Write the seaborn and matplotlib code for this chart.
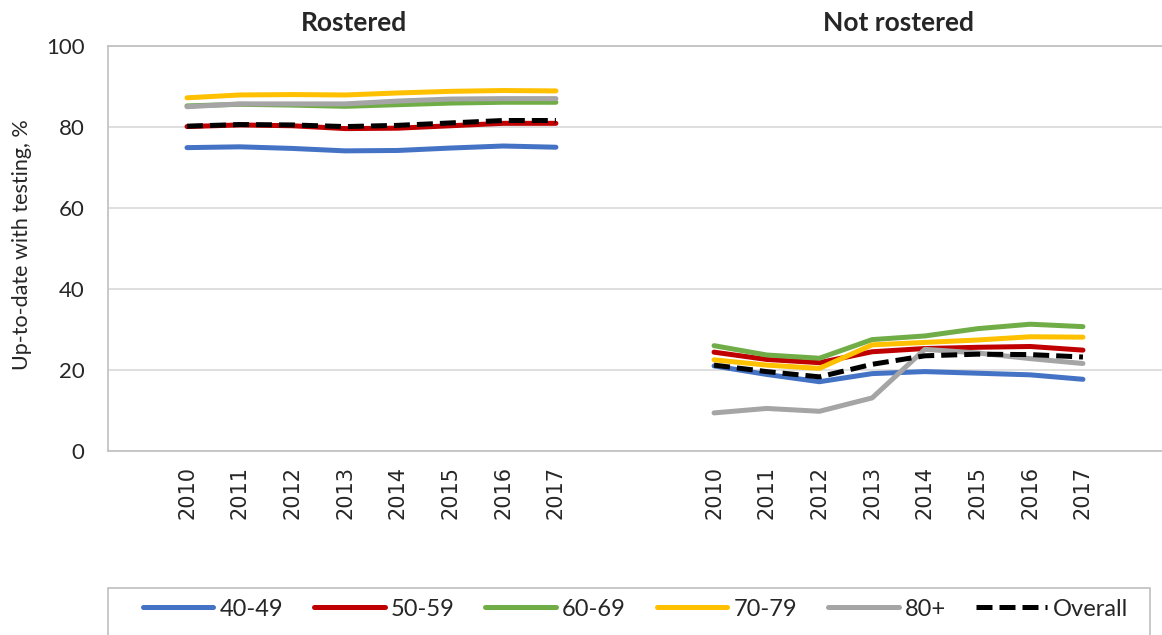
import numpy as np
import pandas as pd
import matplotlib
matplotlib.use("Agg")
import matplotlib.pyplot as plt
from matplotlib.patches import Rectangle
import seaborn as sns

# -------------------
# Data
years = ["2010", "2011", "2012", "2013", "2014", "2015", "2016", "2017"]
panels = ["Rostered", "Not rostered"]
groups = ["40-49", "50-59", "60-69", "70-79", "80+", "Overall"]

rostered = {
    "40-49":   [74.9, 75.1, 74.7, 74.1, 74.2, 74.8, 75.3, 75.0],
    "50-59":   [80.1, 80.5, 80.3, 79.6, 79.7, 80.3, 80.9, 80.9],
    "60-69":   [85.2, 85.6, 85.4, 85.1, 85.5, 85.9, 86.1, 86.1],
    "70-79":   [87.2, 87.9, 88.0, 87.9, 88.4, 88.8, 89.0, 88.9],
    "80+":     [85.0, 85.7, 85.7, 85.7, 86.4, 86.9, 87.0, 87.0],
    "Overall": [80.2, 80.6, 80.5, 80.1, 80.4, 81.0, 81.6, 81.6],
}
not_rostered = {
    "40-49":   [21.0, 18.9, 17.1, 19.1, 19.6, 19.2, 18.8, 17.7],
    "50-59":   [24.4, 22.6, 21.8, 24.5, 25.3, 25.6, 25.8, 24.9],
    "60-69":   [26.0, 23.7, 22.9, 27.5, 28.4, 30.2, 31.3, 30.7],
    "70-79":   [22.5, 21.2, 20.4, 26.2, 26.8, 27.4, 28.2, 28.1],
    "80+":     [9.4, 10.5, 9.8, 13.1, 25.1, 24.2, 22.8, 21.6],
    "Overall": [21.2, 19.6, 18.3, 21.4, 23.5, 23.9, 23.8, 23.2],
}

colors = {"40-49": "#4472C4", "50-59": "#C00000", "60-69": "#70AD47",
          "70-79": "#FFC000", "80+": "#A5A5A5", "Overall": "#000000"}

# -------------------
# Long table; category slots: blank, 8 years, 2 blanks, 8 years, blank
rows = []
for p, (panel, table) in enumerate(zip(panels, [rostered, not_rostered])):
    offset = 1 if p == 0 else 11
    for g in groups:
        for i, y in enumerate(years):
            rows.append({"panel": panel, "group": g, "year": y,
                         "pos": offset + i, "value": table[g][i]})
df = pd.DataFrame(rows)

# -------------------
# Plot
sns.set_style("white")
plt.rcParams["font.family"] = ["Lato", "DejaVu Sans"]

fig = plt.figure(figsize=(11.62, 6.35), dpi=100)
ax = fig.add_axes([0.0929, 0.2898, 0.9071, 0.6378])

for g in groups:
    sub = df[df["group"] == g]
    if g == "Overall":
        kw = dict(dashes=(3.2, 1.4), dash_capstyle="butt")
    else:
        kw = dict(solid_capstyle="round")
    sns.lineplot(data=sub, x="pos", y="value", units="panel", estimator=None,
                 color=colors[g], linewidth=3.6, ax=ax, legend=False, **kw)
    ax.lines[-1].set_label(g)

if ax.get_legend() is not None:
    ax.get_legend().remove()

ax.set_xlim(-0.5, 19.5)
ax.set_ylim(0, 100)
ax.set_yticks([0, 20, 40, 60, 80, 100])
ax.tick_params(axis="y", labelsize=16, length=0, pad=17)
tick_pos = list(range(1, 9)) + list(range(11, 19))
ax.set_xticks(tick_pos)
ax.set_xticklabels(years + years, rotation=90, fontsize=15,
                   family="DejaVu Sans")
ax.tick_params(axis="x", length=0, pad=11)
ax.grid(axis="y", color="#D9D9D9", linewidth=1.2)
ax.set_axisbelow(True)
for s in ["top", "left", "bottom"]:
    ax.spines[s].set_color("#BFBFBF")
    ax.spines[s].set_linewidth(1.2)
ax.spines["right"].set_visible(False)
ax.set_xlabel("")
ax.set_ylabel("Up-to-date with testing, %", fontsize=15.5)
ax.yaxis.set_label_coords(-0.072, 0.51)

fig.text(0.305, 0.964, "Rostered", ha="center", va="center",
         fontsize=19, fontweight="bold")
fig.text(0.773, 0.964, "Not rostered", ha="center", va="center",
         fontsize=19, fontweight="bold")

handles = [l for l in ax.lines if l.get_label() in groups]
labels = [l.get_label() for l in handles]
leg = fig.legend(handles, labels, loc="upper left", ncol=6,
                 bbox_to_anchor=(0.1136, -0.1, 0.8666, 0.174), mode="expand",
                 fontsize=17, handlelength=3.0, handletextpad=0.25,
                 frameon=False, borderaxespad=0, borderpad=0.45)
fig.patches.append(Rectangle((0.0929, -0.05), 0.8967, 0.124,
                             transform=fig.transFigure, fill=False,
                             edgecolor="#BFBFBF", linewidth=1.2))

fig.savefig("out.png", dpi=100)
